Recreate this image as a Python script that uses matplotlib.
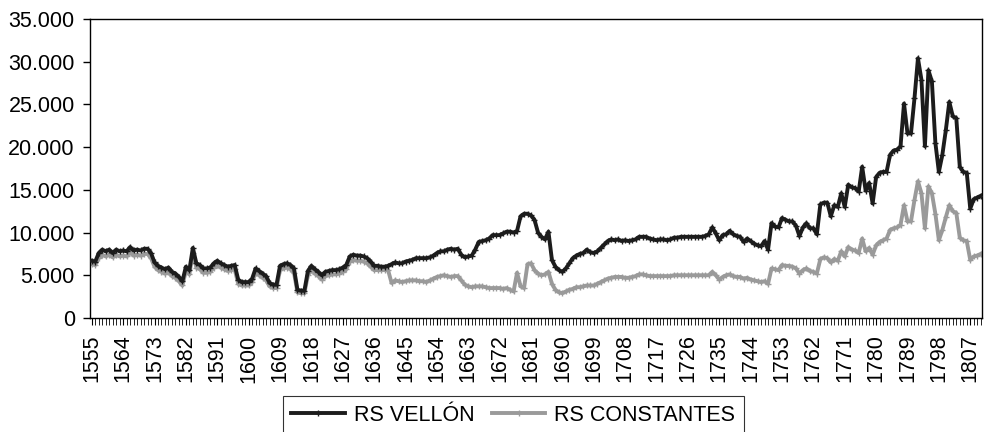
import numpy as np
import matplotlib
matplotlib.use("Agg")
import matplotlib.pyplot as plt
from matplotlib.ticker import FixedLocator, FuncFormatter, MultipleLocator

plt.rcParams["font.family"] = ["Liberation Sans", "DejaVu Sans"]

years = np.arange(1555, 1811)

# reales de vellón, valores corrientes
rs_vellon = np.array([
    6.7, 6.6, 7.6, 8.0, 7.8, 8.0, 7.6, 8.0, 7.8, 7.9,      # 1555
    7.8, 8.3, 7.9, 8.0, 7.9, 8.1, 8.1, 7.6, 6.5, 6.1,      # 1565
    5.9, 5.7, 5.9, 5.4, 5.2, 4.8, 4.3, 6.0, 5.6, 8.2,      # 1575
    6.4, 6.2, 5.8, 5.8, 5.9, 6.4, 6.7, 6.4, 6.2, 6.0,      # 1585
    6.1, 6.2, 4.5, 4.2, 4.2, 4.2, 4.6, 5.8, 5.5, 5.2,      # 1595
    4.9, 4.1, 3.9, 3.9, 6.1, 6.3, 6.4, 6.2, 5.8, 3.3,      # 1605
    3.2, 3.2, 5.5, 6.1, 5.7, 5.4, 5.0, 5.4, 5.5, 5.6,      # 1615
    5.6, 5.7, 5.9, 6.2, 7.2, 7.4, 7.3, 7.3, 7.2, 7.0,      # 1625
    6.6, 6.1, 6.1, 6.0, 6.0, 6.1, 6.3, 6.5, 6.4, 6.4,      # 1635
    6.6, 6.7, 6.8, 7.0, 7.0, 7.0, 7.0, 7.1, 7.3, 7.6,      # 1645
    7.8, 7.8, 8.0, 8.1, 8.0, 8.1, 7.4, 7.1, 7.2, 7.3,      # 1655
    8.0, 8.9, 9.0, 9.1, 9.3, 9.7, 9.7, 9.7, 9.9, 10.1,     # 1665
    10.1, 10.0, 10.2, 11.9, 12.2, 12.2, 12.0, 11.5, 10.0, 9.5,  # 1675
    9.2, 10.1, 6.8, 6.0, 5.6, 5.4, 5.8, 6.4, 7.0, 7.3,     # 1685
    7.5, 7.6, 8.0, 7.7, 7.6, 7.8, 8.2, 8.6, 9.0, 9.2,      # 1695
    9.1, 9.2, 9.0, 9.1, 9.0, 9.1, 9.2, 9.5, 9.5, 9.5,      # 1705
    9.3, 9.2, 9.1, 9.2, 9.2, 9.1, 9.2, 9.4, 9.4, 9.5,      # 1715
    9.5, 9.5, 9.5, 9.5, 9.5, 9.5, 9.6, 9.8, 10.6, 9.9,     # 1725
    9.1, 9.7, 9.8, 10.2, 9.8, 9.6, 9.5, 8.9, 9.3, 9.0,     # 1735
    8.7, 8.5, 8.4, 9.0, 8.0, 11.1, 10.7, 10.6, 11.7, 11.5,  # 1745
    11.3, 11.3, 10.8, 9.6, 10.6, 11.1, 10.5, 10.5, 9.8, 13.3,  # 1755
    13.5, 13.5, 11.9, 13.2, 13.0, 14.6, 13.0, 15.6, 15.3, 15.2,  # 1765
    14.8, 17.7, 14.9, 15.8, 13.4, 16.5, 17.0, 17.1, 17.1, 19.1,  # 1775
    19.6, 19.7, 20.1, 25.1, 21.6, 21.6, 25.7, 30.4, 27.9, 20.1,  # 1785
    29.0, 27.7, 20.5, 17.1, 19.1, 22.0, 25.3, 23.6, 23.4, 17.7,  # 1795
    17.1, 17.0, 12.8, 13.9, 14.1, 14.3,                          # 1805
]) * 1000

# reales de vellón constantes
rs_constantes = np.array([
    6.3, 6.2, 7.0, 7.4, 7.2, 7.4, 7.1, 7.4, 7.2, 7.3,      # 1555
    7.2, 7.7, 7.3, 7.4, 7.3, 7.5, 7.5, 7.0, 6.0, 5.6,      # 1565
    5.4, 5.2, 5.4, 4.9, 4.7, 4.3, 3.8, 5.5, 5.1, 7.6,      # 1575
    5.9, 5.7, 5.3, 5.3, 5.4, 5.9, 6.2, 5.9, 5.7, 5.5,      # 1585
    5.6, 5.7, 4.0, 3.8, 3.8, 3.8, 4.2, 5.3, 5.0, 4.7,      # 1595
    4.4, 3.7, 3.5, 3.5, 5.6, 5.8, 5.9, 5.7, 5.3, 3.0,      # 1605
    2.9, 2.9, 5.0, 5.6, 5.2, 4.9, 4.5, 4.9, 5.0, 5.1,      # 1615
    5.1, 5.2, 5.4, 5.7, 6.6, 6.8, 6.7, 6.7, 6.6, 6.4,      # 1625
    6.0, 5.6, 5.6, 5.6, 5.6, 5.6, 4.1, 4.4, 4.3, 4.2,      # 1635
    4.3, 4.4, 4.4, 4.4, 4.3, 4.3, 4.2, 4.4, 4.6, 4.8,      # 1645
    4.9, 5.0, 4.9, 4.8, 4.9, 4.9, 4.4, 3.9, 3.7, 3.6,      # 1655
    3.7, 3.7, 3.7, 3.6, 3.5, 3.5, 3.5, 3.5, 3.4, 3.5,      # 1665
    3.3, 3.1, 5.3, 3.7, 3.5, 6.3, 6.4, 5.6, 5.2, 5.0,      # 1675
    5.1, 5.4, 4.0, 3.3, 3.0, 2.9, 3.1, 3.3, 3.4, 3.6,      # 1685
    3.6, 3.7, 3.8, 3.8, 3.8, 4.0, 4.2, 4.4, 4.6, 4.7,      # 1695
    4.8, 4.8, 4.8, 4.7, 4.7, 4.8, 4.9, 5.1, 5.1, 5.0,      # 1705
    4.9, 4.9, 4.9, 4.9, 4.9, 4.9, 4.9, 5.0, 5.0, 5.0,      # 1715
    5.0, 5.0, 5.0, 5.0, 5.0, 5.0, 5.0, 5.0, 5.4, 5.0,      # 1725
    4.5, 4.8, 5.0, 5.1, 4.9, 4.8, 4.8, 4.6, 4.7, 4.5,      # 1735
    4.4, 4.3, 4.2, 4.3, 4.0, 5.8, 5.7, 5.6, 6.2, 6.1,      # 1745
    6.1, 6.0, 5.8, 5.2, 5.6, 5.8, 5.5, 5.4, 5.2, 6.9,      # 1755
    7.1, 7.0, 6.5, 6.9, 6.7, 7.8, 7.2, 8.3, 8.0, 7.9,      # 1765
    7.6, 9.3, 7.8, 8.2, 7.4, 8.5, 8.9, 9.1, 9.3, 10.3,     # 1775
    10.5, 10.6, 10.9, 13.2, 11.3, 11.3, 13.8, 16.0, 14.6, 10.5,  # 1785
    15.4, 14.6, 12.2, 9.1, 10.3, 11.8, 13.2, 12.5, 12.3, 9.4,   # 1795
    9.1, 9.0, 6.8, 7.2, 7.3, 7.5,                                # 1805
]) * 1000

y_ticks = [0, 5000, 10000, 15000, 20000, 25000, 30000, 35000]
label_step = 9


def thousands(v, _pos):
    return f"{int(round(v)):,}".replace(",", ".")


fig = plt.figure(figsize=(9.85, 4.32), dpi=100)
ax = fig.add_axes([0.0914, 0.264, 0.906, 0.692])

idx = np.arange(len(years))
ax.plot(idx, rs_vellon, color="#1c1c1c", linewidth=2.8, marker="+",
        markersize=4, markeredgewidth=1.0, label="RS VELLÓN", zorder=3)
ax.plot(idx, rs_constantes, color="#9a9a9a", linewidth=2.8, marker="+",
        markersize=4, markeredgewidth=1.0, label="RS CONSTANTES", zorder=2)

ax.set_xlim(-0.5, len(years) - 0.5)
ax.set_ylim(0, 35000)

ax.yaxis.set_major_locator(FixedLocator(y_ticks))
ax.yaxis.set_major_formatter(FuncFormatter(thousands))
ax.tick_params(axis="y", direction="out", length=5, width=1, labelsize=15.5, pad=6)

major_pos = idx[::label_step]
ax.xaxis.set_major_locator(FixedLocator(major_pos))
ax.set_xticklabels([str(y) for y in years[::label_step]], rotation=90)
ax.xaxis.set_minor_locator(MultipleLocator(1))
ax.tick_params(axis="x", which="major", direction="out", length=5, width=0.8,
               labelsize=15.5, pad=7)
ax.tick_params(axis="x", which="minor", direction="out", length=5, width=0.6)

for side in ("left", "right", "top", "bottom"):
    ax.spines[side].set_color("black")
    ax.spines[side].set_linewidth(1.0)

leg = fig.legend(loc="upper center", bbox_to_anchor=(0.521, 0.0833),
                 bbox_transform=fig.transFigure, ncol=2, frameon=True,
                 fancybox=False, edgecolor="black", fontsize=15.5,
                 handlelength=2.5, columnspacing=0.8, borderpad=0.4,
                 handletextpad=0.4, borderaxespad=0)
leg.get_frame().set_linewidth(0.8)

fig.savefig("out.png", dpi=100)
